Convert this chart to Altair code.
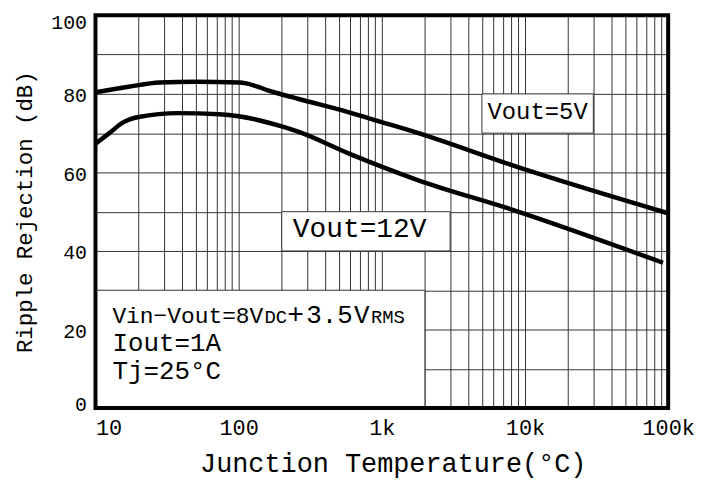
import altair as alt
import pandas as pd

FONT = "Liberation Mono"

# ---- data ----
freq_5v = [10, 17, 28, 50, 100, 115, 139, 160, 190, 263, 590, 1000, 1800, 8500, 100000]
rr_5v = [80.4, 81.8, 82.9, 83.1, 82.9, 82.6, 81.7, 80.9, 80.1, 78.7, 75.3, 72.8, 70.0, 61.6, 49.6]

freq_12v = [10, 12.5, 15.4, 20, 38, 73, 100, 200, 263, 590, 1800, 8500, 92000]
rr_12v = [67.3, 70.0, 72.6, 74.1, 75.1, 74.8, 74.3, 71.7, 70.3, 64.8, 58.0, 50.3, 37.0]

series = ["Vout=5V", "Vout=12V"]

decades = [10, 100, 1000, 10000, 100000]
decade_labels = ["10", "100", "1k", "10k", "100k"]
x_grid = [k * 10 ** d for d in range(1, 5) for k in range(1, 10)] + [100000]

y_grid = list(range(0, 101, 10))
y_labels = ["0", "20", "40", "60", "80", "100"]

lines_df = pd.DataFrame({
    "f": freq_5v + freq_12v,
    "rr": rr_5v + rr_12v,
    "s": [series[0]] * len(freq_5v) + [series[1]] * len(freq_12v),
})

# ---- scales / axes ----
xscale = alt.Scale(type="log", domain=[10, 100000])
yscale = alt.Scale(domain=[0, 100])

x_expr = " : ".join(
    f"datum.value == {v} ? '{l}'" for v, l in zip(decades, decade_labels)
) + " : ''"
y_expr = " : ".join(
    f"datum.value == {int(l)} ? '{l}'" for l in y_labels
) + " : ''"

xaxis = alt.Axis(
    values=x_grid, labelExpr=x_expr, labelOverlap=False, labelFlush=False,
    labelAlign={"condition": {"test": "datum.value == 10", "value": "left"}, "value": "center"},
    grid=True, gridColor="#333333", gridWidth=1, gridOpacity=1,
    ticks=False, tickSize=0, domain=False,
    labelFont=FONT, labelFontSize=22, labelColor="black", labelPadding=10,
    title="Junction Temperature(°C)", titleFont=FONT, titleFontSize=27,
    titleFontWeight="normal", titleColor="black", titlePadding=12,
    titleAlign="center", titleX=299,
)
yaxis = alt.Axis(
    values=y_grid, labelExpr=y_expr, labelOverlap=False, labelFlush=False,
    labelBaseline="middle",
    labelOffset={
        "condition": [
            {"test": "datum.value == 100", "value": 7},
            {"test": "datum.value == 0", "value": -4},
        ],
        "value": 2,
    },
    grid=True, gridColor="#333333", gridWidth=1, gridOpacity=1,
    ticks=False, tickSize=0, domain=False,
    labelFont=FONT, labelFontSize=20, labelColor="black", labelPadding=9,
    title="Ripple Rejection (dB)", titleFont=FONT, titleFontSize=22.5,
    titleFontWeight="normal", titleColor="black", titlePadding=14,
)


def X(field):
    return alt.X(f"{field}:Q", scale=xscale, axis=xaxis)


def Y(field):
    return alt.Y(f"{field}:Q", scale=yscale, axis=yaxis)


# ---- annotation boxes (white cells that hide the grid) ----
boxes_df = pd.DataFrame({
    "f": [10, 200, 5000], "f2": [2000, 3000, 30000],
    "rr": [0, 40, 70], "rr2": [30, 50, 80],
})
boxes = alt.Chart(boxes_df).mark_rect(fill="white", stroke="#333333", strokeWidth=1).encode(
    x=X("f"), x2="f2:Q", y=Y("rr"), y2="rr2:Q"
)

lines = alt.Chart(lines_df).mark_line(
    color="black", strokeWidth=4.5, interpolate="monotone"
).encode(x=X("f"), y=Y("rr"), detail="s:N")


def text_layer(label, f, rr, size, align="left", dx=0):
    df = pd.DataFrame({"f": [f], "rr": [rr], "label": [label]})
    return alt.Chart(df).mark_text(
        font=FONT, fontSize=size, align=align, baseline="alphabetic",
        dx=dx, color="black"
    ).encode(x=X("f"), y=Y("rr"), text="label:N")


texts = [
    text_layer(series[0], 12247, 73.6, 24, align="center"),
    text_layer(series[1], 700, 43.5, 28, align="center"),
    # first condition line, pieced together in several sizes
    text_layer("Vin−Vout=8", 10, 21.7, 23, dx=17),
    text_layer("V", 10, 21.7, 23, dx=155),
    text_layer("DC", 10, 21.7, 19, dx=170),
    text_layer("+", 10, 21.7, 28, dx=193),
    text_layer("3.5", 10, 21.7, 26, dx=212),
    text_layer("V", 10, 21.7, 26, dx=260),
    text_layer("RMS", 10, 21.7, 19, dx=277),
    text_layer("Iout=1A", 10, 14.5, 26, dx=17),
    text_layer("Tj=25°C", 10, 7.3, 26, dx=17),
]

frame_df = pd.DataFrame({"f": [10], "f2": [100000], "rr": [0], "rr2": [100]})
frame = alt.Chart(frame_df).mark_rect(filled=False, stroke="black", strokeWidth=4).encode(
    x=X("f"), x2="f2:Q", y=Y("rr"), y2="rr2:Q"
)

chart = alt.layer(boxes, lines, *texts, frame).properties(
    width=576, height=395,
    padding={"left": 88, "top": 6, "right": 27, "bottom": 72},
    autosize=alt.AutoSizeParams(type="none"),
    background="white",
).configure_view(strokeWidth=0)

chart.save("out.html", embed_options={"renderer": "svg", "actions": False})
